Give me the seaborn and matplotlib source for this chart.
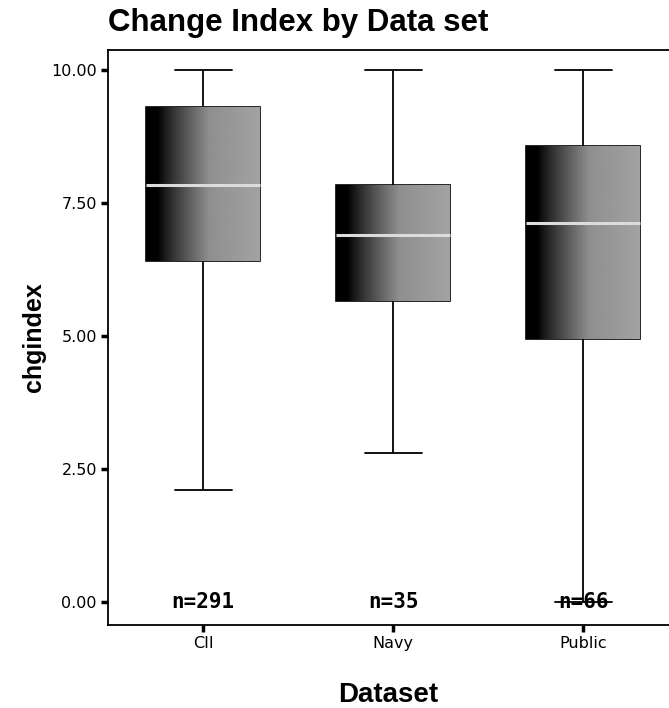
import numpy as np
import pandas as pd
import matplotlib
matplotlib.use("Agg")
import matplotlib.pyplot as plt
import seaborn as sns

# ---- data (five-number summaries) ----
datasets = ["CII", "Navy", "Public"]
lows = [2.11, 2.80, 0.00]
q1s = [6.41, 5.66, 4.95]
medians = [7.84, 6.90, 7.12]
q3s = [9.30, 7.84, 8.57]
highs = [10.00, 10.00, 10.00]
counts = [291, 35, 66]
yticks = [0.0, 2.5, 5.0, 7.5, 10.0]

rows = []
for d, lo, a, m, b, hi in zip(datasets, lows, q1s, medians, q3s, highs):
    for v in (lo, a, m, b, hi):
        rows.append({"Dataset": d, "chgindex": v})
df = pd.DataFrame(rows)

sns.set_theme(style="white")
plt.rcParams["font.family"] = ["Liberation Sans", "DejaVu Sans"]
plt.rcParams["text.color"] = "black"
plt.rcParams["axes.labelcolor"] = "black"
plt.rcParams["xtick.color"] = "black"
plt.rcParams["ytick.color"] = "black"

fig = plt.figure(figsize=(6.69, 7.08), dpi=100)
ax = fig.add_axes([108 / 669, 83 / 708, (669 - 108) / 669, (625 - 50) / 708])

sns.boxplot(
    data=df, x="Dataset", y="chgindex", order=datasets, ax=ax,
    whis=(0, 100), width=0.6, color="#888888", linecolor="black", linewidth=1.2,
    showfliers=False,
    medianprops=dict(color="#dcdcdc", linewidth=2.2, zorder=6),
    whiskerprops=dict(color="black", linewidth=1.3),
    capprops=dict(color="black", linewidth=1.3),
    boxprops=dict(edgecolor="black", linewidth=1.2),
)

# gradient fill (black at left to grey at right) clipped to each box
xg = np.linspace(0, 1, 256)
grad = np.clip((xg - 0.10) / 0.45, 0, 1) ** 0.85 * 0.56 + np.clip((xg - 0.55) / 0.45, 0, 1) * 0.08
grad_img = np.tile(grad, (2, 1))
for p in list(ax.patches):
    ext = p.get_path().get_extents(p.get_transform() - ax.transData)
    im = ax.imshow(grad_img, cmap="gray", vmin=0, vmax=1, aspect="auto",
                   extent=[ext.x0, ext.x1, ext.y0, ext.y1], origin="lower",
                   zorder=p.get_zorder() + 0.1, interpolation="bilinear")
    im.set_clip_path(p)
    p.set_facecolor("none")

ax.set_xlim(-0.5, 2.45)
ax.set_ylim(-0.43, 10.38)
ax.set_yticks(yticks)
ax.set_yticklabels([f"{v:.2f}" for v in yticks])

for i, n in enumerate(counts):
    ax.text(i, 0.0, f"n={n}", ha="center", va="center",
            family="DejaVu Sans Mono", fontweight="bold", fontsize=15, zorder=8)

for s in ["left", "bottom", "top"]:
    ax.spines[s].set_visible(True)
    ax.spines[s].set_color("black")
    ax.spines[s].set_linewidth(1.3)
ax.spines["right"].set_visible(False)

ax.tick_params(axis="both", which="both", length=5, width=2.5, color="black",
               direction="out", left=True, bottom=True, pad=3)
for lab in ax.get_xticklabels() + ax.get_yticklabels():
    lab.set_family("DejaVu Sans")
    lab.set_fontsize(11.5)

ax.set_xlabel("Dataset", fontsize=20, fontweight="bold", labelpad=22)
ax.set_ylabel("chgindex", fontsize=18, fontweight="bold", labelpad=4)

fig.text(108 / 669, 1 - 23 / 708, "Change Index by Data set", fontsize=22.5,
         fontweight="bold", ha="left", va="center")

fig.savefig("out.png", dpi=100)
